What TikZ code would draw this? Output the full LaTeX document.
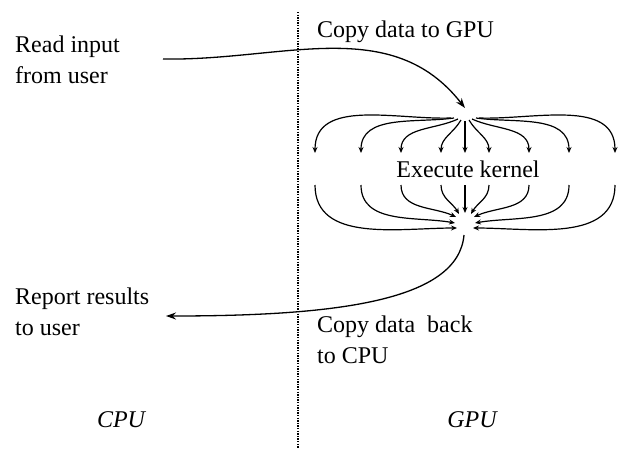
\documentclass[tikz,border=0pt]{standalone}
\usepackage{fontspec}
\setmainfont{Liberation Serif}
\usetikzlibrary{arrows.meta}

\tikzset{
  lbl/.style={inner sep=0pt, align=left, font=\fontsize{24}{31}\selectfont},
  flow/.style={line width=1.3pt, -{Stealth[length=10pt,width=7pt]}},
  fan/.style={line width=1.2pt, -{Stealth[length=6pt,width=5pt]}},
  divider/.style={line width=1.3pt, dash pattern=on 1.3pt off 1.3pt}
}

\begin{document}
\begin{tikzpicture}[x=1pt, y=-1pt]
  \useasboundingbox (0,0) rectangle (621,448);
  % labels (base = last line)
  \node[lbl, anchor=base west] (read) at (15,83) {Read input\\from user};
  \node[lbl, anchor=base west] (report) at (15,335) {Report results\\to user};
  \node[lbl, anchor=base west] (copyto) at (317,37) {Copy data to GPU};
  \node[lbl, anchor=base west] (copyback) at (317,363) {Copy data~ back\\to CPU};
  \node[lbl, anchor=base] (kernel) at (468,177) {Execute kernel};
  \node[lbl, anchor=base, font=\fontsize{24}{31}\selectfont\itshape] (cpu) at (121,427) {CPU};
  \node[lbl, anchor=base, font=\fontsize{24}{31}\selectfont\itshape] (gpu) at (472,427) {GPU};
  % divider between host and device
  \coordinate (divtop) at (298,12);
  \coordinate (divbot) at (298,448);
  \draw[divider] (divtop) -- (divbot);
  % hubs and free ends
  \coordinate (src) at (163,59);
  \coordinate (fanin) at (465,108);
  \coordinate (fanout) at (464,235);
  \coordinate (dst) at (166,316);
  \coordinate (s1) at (451,118);
  \coordinate (s2) at (454,118);
  \coordinate (s3) at (458,119);
  \coordinate (s4) at (461,120);
  \coordinate (s5) at (465,121);
  \coordinate (s6) at (469,120);
  \coordinate (s7) at (472,119);
  \coordinate (s8) at (476,118);
  \coordinate (s9) at (479,118);
  \coordinate (t1) at (315,153);
  \coordinate (t2) at (361,153);
  \coordinate (t3) at (401,153);
  \coordinate (t4) at (441,153);
  \coordinate (t5) at (465,153);
  \coordinate (t6) at (489,153);
  \coordinate (t7) at (529,153);
  \coordinate (t8) at (569,153);
  \coordinate (t9) at (615,153);
  \coordinate (b1) at (315,185);
  \coordinate (b2) at (361,185);
  \coordinate (b3) at (401,185);
  \coordinate (b4) at (441,185);
  \coordinate (b5) at (465,185);
  \coordinate (b6) at (489,185);
  \coordinate (b7) at (529,185);
  \coordinate (b8) at (569,185);
  \coordinate (b9) at (615,185);
  \coordinate (e1) at (457,228);
  \coordinate (e2) at (455,223);
  \coordinate (e3) at (456,217);
  \coordinate (e4) at (459,214);
  \coordinate (e5) at (465,213);
  \coordinate (e6) at (471,214);
  \coordinate (e7) at (474,217);
  \coordinate (e8) at (475,223);
  \coordinate (e9) at (473,228);
  % host to device and back
  \draw[flow] (src) to[out=-1, in=128] (fanin);
  \draw[flow] (fanout) to[out=265, in=0, out looseness=0.55, in looseness=1.4] (dst);
  % threads
  \begin{scope}[fan]
    \draw (s1) to[out=182, in=90] (t1);
    \draw (s2) to[out=188, in=90] (t2);
    \draw (s3) to[out=205, in=90] (t3);
    \draw (s4) to[out=240, in=90] (t4);
    \draw (s5) -- (t5);
    \draw (s6) to[out=300, in=90] (t6);
    \draw (s7) to[out=335, in=90] (t7);
    \draw (s8) to[out=352, in=90] (t8);
    \draw (s9) to[out=358, in=90] (t9);
    \draw (b1) to[out=270, in=180] (e1);
    \draw (b2) to[out=270, in=170] (e2);
    \draw (b3) to[out=270, in=155] (e3);
    \draw (b4) to[out=270, in=120] (e4);
    \draw (b5) -- (e5);
    \draw (b6) to[out=270, in=60] (e6);
    \draw (b7) to[out=270, in=25] (e7);
    \draw (b8) to[out=270, in=10] (e8);
    \draw (b9) to[out=270, in=0] (e9);
  \end{scope}
\end{tikzpicture}
\end{document}
